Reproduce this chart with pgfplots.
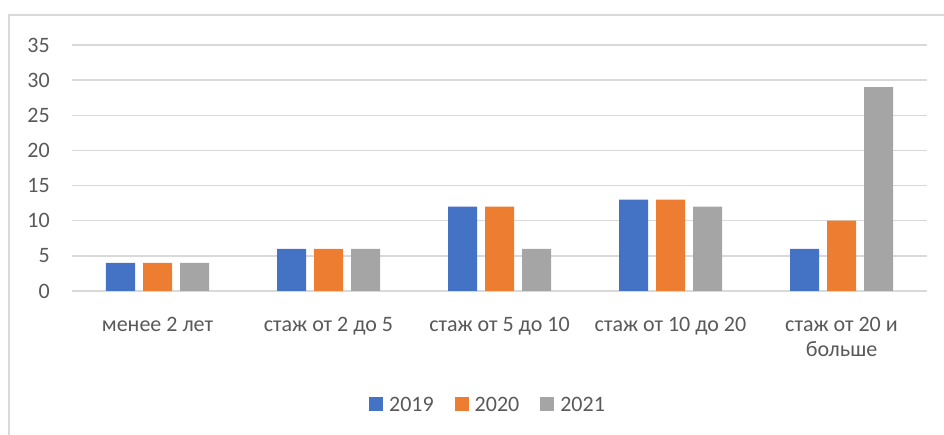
\documentclass[border=0pt]{standalone}
\usepackage{fontspec}
\setmainfont{Carlito}
\usepackage{pgfplots}
\pgfplotsset{compat=1.18}
\definecolor{cA}{HTML}{4472C4}
\definecolor{cB}{HTML}{ED7D31}
\definecolor{cC}{HTML}{A5A5A5}
\definecolor{txt}{HTML}{595959}
\definecolor{grid}{HTML}{D9D9D9}
\begin{document}
\begin{tikzpicture}[font=\fontsize{22bp}{25bp}\selectfont]
\useasboundingbox (0,0) rectangle (944bp,435bp);
\draw[color=grid, line width=1.2bp] (9bp,0) -- (9bp,420bp) -- (944bp,420bp);
\begin{axis}[
  at={(72bp,144bp)}, anchor=south west,
  scale only axis, width=855bp, height=246bp,
  ymin=0, ymax=35, xmin=-0.5, xmax=4.5,
  ytick={0,5,...,35}, xtick={0,1,2,3,4},
  xticklabels={менее 2 лет, стаж от 2 до 5, стаж от 5 до 10, стаж от 10 до 20, {\begin{tabular}[t]{@{}c@{}}стаж от 20 и\\больше\end{tabular}}},
  ybar=8bp, bar width=29bp,
  axis line style={draw=none}, major tick length=0pt,
  ymajorgrids, grid style={color=grid, line width=1.3bp},
  tick label style={text=txt, inner sep=0pt},
  /pgf/number format/assume math mode=true,
  yticklabel style={anchor=east, xshift=-22bp},
  xticklabel style={anchor=base, yshift=-40bp},
  legend columns=3,
  legend style={draw=none, fill=none, inner sep=0pt, text=txt,
    at={(0.4854,-0.4634)}, anchor=center,
    nodes={inner sep=0pt, anchor=west},
    /tikz/every odd column/.append style={column sep=6bp},
    /tikz/every even column/.append style={column sep=21bp}},
  legend image code/.code={\fill[#1,draw=none] (0bp,-5bp) rectangle (14bp,9bp);},
]
\addplot[fill=cA, draw=none] coordinates {(0,4) (1,6) (2,12) (3,13) (4,6)};
\addplot[fill=cB, draw=none] coordinates {(0,4) (1,6) (2,12) (3,13) (4,10)};
\addplot[fill=cC, draw=none] coordinates {(0,4) (1,6) (2,6) (3,12) (4,29)};
\legend{2019,2020,2021}
\end{axis}
\end{tikzpicture}
\end{document}
